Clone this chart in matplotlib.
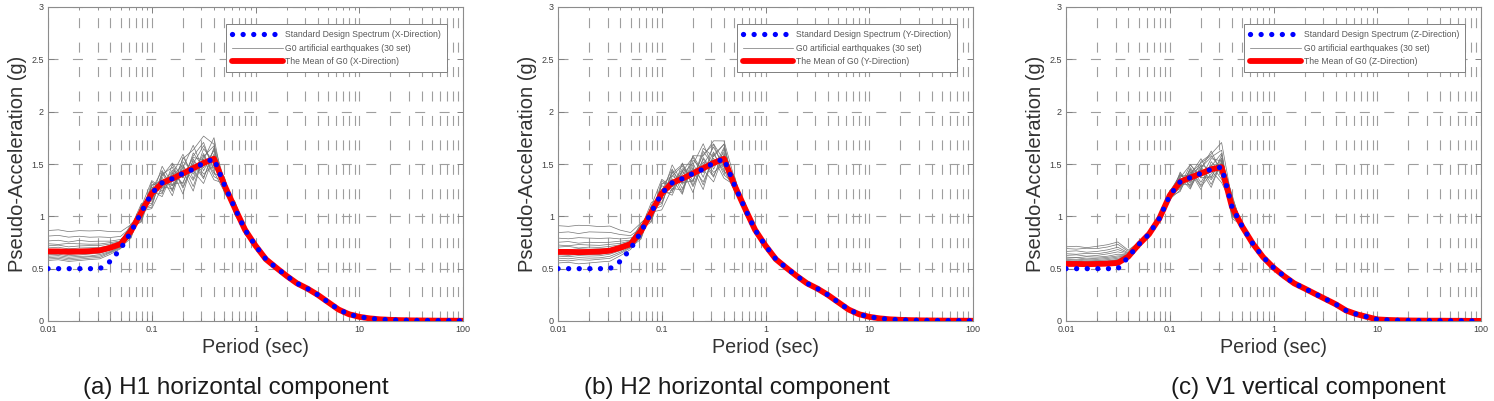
import numpy as np
import matplotlib
matplotlib.use("Agg")
import matplotlib.pyplot as plt
from matplotlib.ticker import LogLocator, NullFormatter, FixedLocator, FixedFormatter

plt.rcParams['font.family'] = ['Liberation Sans', 'DejaVu Sans']

# periods (sec), 10 points per decade
PERIODS = [0.01, 0.0126, 0.0158, 0.02, 0.0251, 0.0316, 0.0398, 0.0501, 0.0631, 0.0794,
           0.1, 0.126, 0.158, 0.2, 0.251, 0.316, 0.398, 0.501, 0.631, 0.794,
           1, 1.26, 1.58, 2, 2.51, 3.16, 3.98, 5.01, 6.31, 7.94,
           10, 12.6, 15.8, 20, 25.1, 31.6, 39.8, 50.1, 63.1, 79.4, 100]

# standard design spectrum, horizontal (X and Y) and vertical (Z)
DESIGN_H = [0.5, 0.5, 0.5, 0.5, 0.5, 0.5, 0.57, 0.69, 0.85, 1.04,
            1.22, 1.32, 1.36, 1.41, 1.45, 1.51, 1.55, 1.30, 1.08, 0.87,
            0.72, 0.59, 0.51, 0.43, 0.36, 0.31, 0.25, 0.18, 0.11, 0.065,
            0.04, 0.025, 0.016, 0.011, 0.008, 0.006, 0.005, 0.004, 0.003, 0.003, 0.002]
DESIGN_V = [0.5, 0.5, 0.5, 0.5, 0.5, 0.5, 0.61, 0.73, 0.83, 0.98,
            1.20, 1.33, 1.37, 1.41, 1.45, 1.47, 1.09, 0.90, 0.74, 0.61,
            0.51, 0.43, 0.36, 0.31, 0.26, 0.21, 0.16, 0.10, 0.065, 0.04,
            0.015, 0.010, 0.007, 0.005, 0.004, 0.003, 0.003, 0.002, 0.002, 0.001, 0.001]

# mean of the G0 set
MEAN_X = [0.665, 0.665, 0.662, 0.664, 0.667, 0.675, 0.70, 0.735, 0.86, 1.04,
          1.22, 1.32, 1.36, 1.41, 1.46, 1.51, 1.55, 1.30, 1.08, 0.87,
          0.72, 0.59, 0.51, 0.43, 0.36, 0.31, 0.25, 0.18, 0.11, 0.065,
          0.04, 0.025, 0.016, 0.011, 0.008, 0.006, 0.005, 0.004, 0.003, 0.003, 0.002]
MEAN_Y = [0.66, 0.66, 0.658, 0.66, 0.663, 0.672, 0.70, 0.735, 0.86, 1.04,
          1.22, 1.32, 1.36, 1.41, 1.46, 1.51, 1.55, 1.30, 1.08, 0.87,
          0.72, 0.59, 0.51, 0.43, 0.36, 0.31, 0.25, 0.18, 0.11, 0.065,
          0.04, 0.025, 0.016, 0.011, 0.008, 0.006, 0.005, 0.004, 0.003, 0.003, 0.002]
MEAN_Z = [0.545, 0.545, 0.543, 0.545, 0.548, 0.555, 0.615, 0.73, 0.83, 0.98,
          1.20, 1.33, 1.37, 1.41, 1.45, 1.47, 1.09, 0.90, 0.74, 0.61,
          0.51, 0.43, 0.36, 0.31, 0.26, 0.21, 0.16, 0.10, 0.065, 0.04,
          0.015, 0.010, 0.007, 0.005, 0.004, 0.003, 0.003, 0.002, 0.002, 0.001, 0.001]

Z11 = [0, 0, 0, 0, 0, 0, 0, 0, 0, 0, 0]

# artificial earthquakes: deviation from the mean in percent, one row per record
DEV_X = [
    [30, 31, 29, 30, 29, 28, 22, 16, 7, -3, 6, 2, -5, 10, 12, 17, 9, 3, -2, 2, 1, -2, 2, 0, 1, -1, -4, 3, 0, 1] + Z11,
    [22, 23, 21, 22, 20, 19, 14, 10, 4, 8, -6, 5, 11, -3, 7, 2, 13, -4, 5, -1, 2, 1, -3, 2, 0, 1, 2, -6, -3, 0] + Z11,
    [15, 16, 14, 16, 14, 13, 9, 6, -3, 5, 10, -4, 3, 13, -7, 9, -2, 5, -3, 4, -1, 3, 0, -2, 2, 0, -3, -8, -5, -2] + Z11,
    [11, 10, 12, 11, 10, 9, 7, 4, 6, -7, 3, 9, -8, 4, 15, -5, 6, -2, 3, -4, 3, -1, 1, 2, -2, 1, 3, 2, 4, 0] + Z11,
    [8, 9, 7, 8, 8, 7, 5, 3, -5, 2, -9, 6, 8, -10, 3, 11, -6, 6, -5, 1, -2, 2, -1, 1, -1, 2, -2, -4, 2, 1] + Z11,
    [5, 6, 4, 5, 5, 4, 3, 2, 8, -2, 5, -7, 2, 6, -12, 4, 8, -3, 2, 5, 1, -3, 2, -1, 3, -2, 1, 5, -2, 0] + Z11,
    [3, 2, 4, 3, 3, 2, 2, 1, -7, 6, -3, 12, -4, -6, 5, -9, 3, 4, -4, -2, 2, 0, -2, 3, -1, 0, -5, -10, -6, -3] + Z11,
    [1, 2, 0, 1, 1, 1, 0, 0, 3, -8, 7, -2, 6, -3, 8, 13, -8, -5, 6, 2, -1, 1, 2, -2, 0, 1, 2, 0, 3, 1] + Z11,
    [-1, 0, -2, -1, -1, 0, 0, -1, -2, 4, -5, 7, -9, 11, -4, 6, -11, 2, -2, -5, 3, -2, 0, 1, -2, 2, -1, 3, -1, 0] + Z11,
    [-3, -2, -4, -3, -3, -2, -2, -1, 5, -4, 2, -10, 4, -7, 10, -3, 5, -6, 1, 3, -2, 3, -1, 0, 2, -1, 0, -3, 2, 1] + Z11,
    [-5, -4, -6, -5, -4, -4, -3, -2, -6, 7, -8, 4, -12, 8, -2, -13, 2, 3, -6, -1, 1, -1, 3, -2, 1, -3, -6, -12, -8, -4] + Z11,
    [-7, -6, -8, -7, -7, -6, -5, -3, 2, -5, 9, -6, 5, -14, 6, -7, -4, -3, 4, -3, -3, 2, -2, 2, -1, 1, 3, 6, 3, 1] + Z11,
    [-9, -8, -10, -9, -8, -8, -6, -4, -8, 3, -11, 8, -5, 2, -15, 5, -9, 5, -3, 4, 2, -2, 1, -1, 0, 2, -2, 1, -2, 0] + Z11,
    [-11, -10, -12, -11, -10, -10, -7, -5, 4, -9, 1, -8, 10, -9, 3, -10, 7, -4, -1, -2, -1, 1, -2, 3, -2, 0, 4, -2, 1, 2] + Z11,
    [-13, -12, -14, -13, -12, -12, -9, -6, -4, 1, -12, -3, -7, 5, -8, 2, -13, 1, 3, -5, 0, -1, 2, -1, 1, -1, -3, -7, -4, -1] + Z11,
]
DEV_Y = [
    [38, 37, 39, 38, 36, 35, 24, 15, 9, -2, 7, 5, -3, 12, 8, 14, 11, 5, -1, 3, 2, -1, 3, 1, 0, -2, -3, 5, 1, 0] + Z11,
    [28, 29, 27, 29, 28, 26, 18, 11, 3, 9, -4, 7, 10, -5, 13, 4, 9, -3, 4, -2, 1, 2, -2, 1, -1, 2, 3, -5, -2, 1] + Z11,
    [20, 19, 21, 20, 19, 18, 12, 8, -4, 6, 11, -3, 5, 11, -6, 12, -1, 4, -4, 3, -2, 2, 1, -1, 3, -1, -4, -9, -6, -2] + Z11,
    [14, 15, 13, 14, 13, 12, 9, 5, 7, -6, 2, 10, -7, 6, 16, -4, 7, -1, 2, -3, 2, -2, 0, 3, -1, 1, 2, 3, 5, 1] + Z11,
    [10, 9, 11, 10, 9, 9, 6, 4, -6, 3, -8, 5, 9, -9, 2, 10, -5, 7, -4, 2, -1, 3, -2, 2, -2, 1, -1, -3, 1, 0] + Z11,
    [7, 8, 6, 7, 6, 6, 4, 3, 9, -1, 6, -6, 3, 7, -11, 5, 9, -2, 3, 4, 2, -2, 1, -2, 2, -1, 2, 4, -3, -1] + Z11,
    [4, 3, 5, 4, 4, 3, 3, 2, -8, 5, -2, 13, -3, -5, 6, -8, 2, 3, -5, -1, 1, 1, -3, 2, 0, 1, -6, -11, -7, -3] + Z11,
    [2, 1, 3, 2, 1, 2, 1, 1, 2, -9, 8, -1, 7, -2, 9, 12, -7, -4, 5, 3, -2, 0, 3, -1, 1, 0, 1, 1, 2, 0] + Z11,
    [0, 1, -1, 0, 0, -1, 0, 0, -3, 3, -4, 8, -10, 12, -3, 7, -10, 1, -1, -4, 2, -1, -1, 2, -1, 3, 0, 2, -2, 1] + Z11,
    [-2, -3, -1, -2, -2, -2, -1, -1, 6, -5, 3, -9, 5, -6, 11, -2, 4, -5, 2, 2, -3, 2, 0, -1, 3, -2, -1, -2, 3, 1] + Z11,
    [-4, -5, -3, -4, -4, -3, -3, -2, -7, 6, -7, 3, -11, 9, -1, -12, 3, 2, -5, -2, 0, -2, 2, -3, 1, -2, -7, -13, -9, -4] + Z11,
    [-6, -7, -5, -6, -6, -5, -4, -3, 1, -6, 10, -5, 6, -13, 7, -6, -3, -2, 3, -4, -2, 3, -1, 1, -2, 2, 4, 5, 2, 0] + Z11,
    [-9, -10, -8, -9, -9, -8, -6, -4, -9, 2, -10, 9, -4, 3, -14, 6, -8, 6, -2, 3, 3, -1, 2, 0, -1, 1, -1, 0, -1, 1] + Z11,
    [-12, -13, -11, -12, -11, -11, -8, -5, 5, -8, 0, -7, 11, -8, 4, -9, 6, -3, -2, -1, -1, 0, -1, 2, -3, 1, 3, -1, 2, 1] + Z11,
    [-16, -15, -17, -16, -15, -15, -11, -7, -5, 0, -13, -4, -8, 4, -9, 3, -12, 0, 2, -4, 1, -1, 1, -2, 2, 0, -2, -6, -3, -1] + Z11,
]
DEV_Z = [
    [30, 31, 29, 31, 33, 36, 10, 3, 2, -1, 3, 5, -4, 8, 10, 16, 6, 4, -2, 2, 1, -1, 2, 0, 1, -1, -2, 3, 0, 1] + Z11,
    [27, 26, 28, 27, 29, 32, 8, 2, -1, 2, -2, 3, 9, -3, 7, 4, 11, -3, 3, -1, 2, 1, -2, 1, 0, 1, 1, -3, -1, 0] + Z11,
    [22, 23, 21, 22, 24, 27, 6, 1, 1, -2, 4, -4, 2, 10, -6, 8, -2, 3, -3, 3, -1, 2, 0, -1, 1, 0, -2, -4, -2, -1] + Z11,
    [18, 17, 19, 18, 20, 23, 5, 2, -2, 1, -3, 7, -7, 3, 12, -4, 5, -2, 2, -3, 2, -1, 1, 1, -1, 1, 2, 1, 2, 0] + Z11,
    [15, 16, 14, 15, 17, 19, 4, 1, 2, -1, 1, -5, 6, -8, 2, 9, -5, 4, -3, 1, -1, 2, -1, 1, -1, 1, -1, -2, 1, 0] + Z11,
    [12, 11, 13, 12, 13, 15, 3, 0, -1, 2, -2, 4, 2, 5, -10, 3, 7, -2, 2, 3, 1, -2, 1, -1, 2, -1, 1, 2, -2, 0] + Z11,
    [10, 11, 9, 10, 11, 12, 2, 1, 1, -2, 3, -3, 9, -3, -5, 5, -8, 2, -3, -1, 1, 0, -2, 2, 0, 1, -3, -5, -3, -1] + Z11,
    [8, 7, 9, 8, 9, 10, 2, 0, -2, 1, -1, 6, -6, 4, 8, 11, -6, -3, 4, 2, -1, 1, 2, -1, 0, 0, 1, 0, 1, 0] + Z11,
    [6, 7, 5, 6, 7, 8, 1, 0, 1, -1, 2, -2, 5, -9, -3, 6, 9, 1, -1, -3, 2, -1, 0, 1, -1, 2, 0, 1, -1, 0] + Z11,
    [5, 4, 6, 5, 5, 6, 1, -1, -1, 2, -3, -6, 3, 7, 9, -2, 4, -4, 1, 2, -2, 2, -1, 0, 2, -1, 0, -1, 2, 0] + Z11,
    [4, 5, 3, 4, 4, 5, 0, 0, 2, -1, 1, 3, -8, 6, -1, -10, 2, 2, -4, -1, 0, -1, 2, -2, 1, -1, -3, -6, -4, -2] + Z11,
    [3, 2, 4, 3, 3, 4, 0, -1, -2, 0, -2, -4, 4, -11, 5, -5, -3, -2, 2, -3, -1, 2, -1, 1, -1, 1, 2, 3, 1, 0] + Z11,
    [2, 3, 1, 2, 2, 3, 0, 0, 1, -2, 2, 5, -3, 2, -12, 4, -7, 4, -2, 2, 2, -1, 1, 0, -1, 1, -1, 0, -1, 0] + Z11,
    [1, 0, 2, 1, 1, 2, -1, -1, -1, 1, -1, -7, 7, -6, 3, -8, 5, -2, -1, -1, -1, 0, -1, 2, -2, 1, 2, -1, 1, 1] + Z11,
    [0, 1, -1, 0, 0, 1, -1, 0, 0, -1, -4, -2, -5, 3, -7, 2, -10, 1, 2, -3, 1, -1, 1, -1, 1, 0, -1, -3, -2, 0] + Z11,
]

DIRECTIONS = ["X", "Y", "Z"]
CAPTIONS = ["(a) H1 horizontal component",
            "(b) H2 horizontal component",
            "(c) V1 vertical component"]

W, H = 1494, 401
AX_LEFT = [48, 558, 1066]
AX_W = 415
AX_TOP, AX_BOT = 7, 321
CAPTION_X = [236, 737, 1308]
GRID_STYLE = dict(color="0.62", linewidth=0.8, linestyle=(0, (9, 13)))


def draw_panel(ax, design, mean, devs, direction):
    t = np.array(PERIODS)
    m = np.array(mean)
    gray = None
    for d in devs:
        gray, = ax.plot(t, m * (1 + np.array(d) / 100.0), color="0.45",
                        lw=0.5, zorder=2)
    red, = ax.plot(t, m, color="red", lw=4.2, zorder=3, solid_capstyle="round")
    blue, = ax.plot(t, design, color="blue", lw=3.8, ls=(0, (0.01, 2.0)),
                    dash_capstyle="round", zorder=4)

    ax.set_xscale("log")
    ax.set_xlim(0.01, 100)
    ax.set_ylim(0, 3)
    ax.xaxis.set_major_locator(FixedLocator([0.01, 0.1, 1, 10, 100]))
    ax.xaxis.set_major_formatter(FixedFormatter(["0.01", "0.1", "1", "10", "100"]))
    ax.xaxis.set_minor_locator(LogLocator(base=10, subs=np.arange(2, 10), numticks=20))
    ax.xaxis.set_minor_formatter(NullFormatter())
    ax.set_yticks([0, 0.5, 1, 1.5, 2, 2.5, 3])
    ax.set_yticklabels(["0", "0.5", "1", "1.5", "2", "2.5", "3"])

    ax.set_axisbelow(True)
    ax.grid(True, which="major", axis="both", **GRID_STYLE)
    ax.grid(True, which="minor", axis="x", **GRID_STYLE)

    ax.tick_params(which="both", direction="in", top=True, right=True,
                   color="0.5", labelcolor="0.25", labelsize=6.5, pad=3)
    ax.tick_params(which="major", length=4, width=0.7)
    ax.tick_params(which="minor", length=2, width=0.6)
    for s in ax.spines.values():
        s.set_color("0.55")
        s.set_linewidth(0.8)

    ax.set_xlabel("Period (sec)", fontsize=14.2, color="0.2", labelpad=3)
    ax.set_ylabel("Pseudo-Acceleration (g)", fontsize=14.5, color="0.2", labelpad=3)

    leg = ax.legend([blue, gray, red],
                    ["Standard Design Spectrum (%s-Direction)" % direction,
                     "G0 artificial earthquakes (30 set)",
                     "The Mean of G0 (%s-Direction)" % direction],
                    loc="upper right", bbox_to_anchor=(0.962, 0.945),
                    fontsize=6.2, handlelength=5.9, handletextpad=0.3,
                    borderpad=0.7, labelspacing=0.5, fancybox=False,
                    framealpha=1, edgecolor="0.5", borderaxespad=0)
    leg.get_frame().set_linewidth(0.7)
    for txt in leg.get_texts():
        txt.set_color("0.35")


fig = plt.figure(figsize=(W / 100, H / 100), dpi=100)
designs = [DESIGN_H, DESIGN_H, DESIGN_V]
means = [MEAN_X, MEAN_Y, MEAN_Z]
devsets = [DEV_X, DEV_Y, DEV_Z]
for i in range(3):
    ax = fig.add_axes([AX_LEFT[i] / W, 1 - AX_BOT / H, AX_W / W, (AX_BOT - AX_TOP) / H])
    draw_panel(ax, designs[i], means[i], devsets[i], DIRECTIONS[i])
    fig.text(CAPTION_X[i] / W, 1 - 388 / H, CAPTIONS[i],
             ha="center", va="center", fontsize=17.5, color="0.1")

fig.savefig("out.png", dpi=100)
